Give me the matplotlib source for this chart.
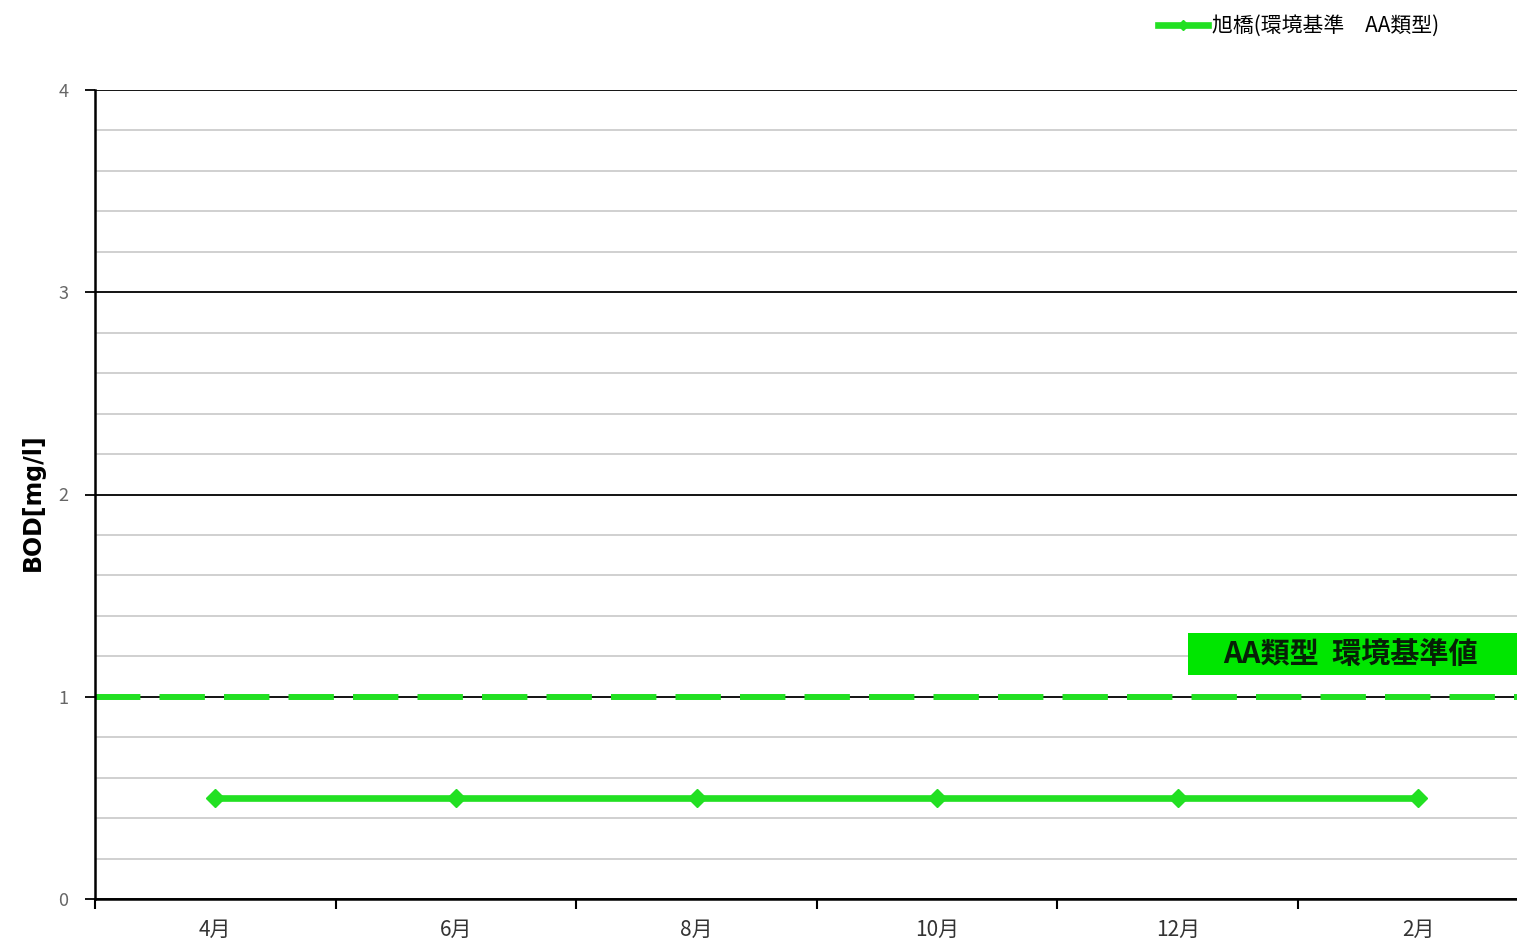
import matplotlib
matplotlib.use("Agg")
import matplotlib.pyplot as plt
from matplotlib.patches import Rectangle
from matplotlib.ticker import MultipleLocator, FixedLocator, NullFormatter

plt.rcParams['font.family'] = ['Noto Sans CJK JP', 'DejaVu Sans']

months = ['4月', '6月', '8月', '10月', '12月', '2月']
bod_values = [0.5, 0.5, 0.5, 0.5, 0.5, 0.5]
standard_value = 1.0
series_label = '旭橋(環境基準\u3000AA類型)'
standard_label = 'AA類型  環境基準値'

GREEN = '#22e022'
BOXGREEN = '#00e600'

fig = plt.figure(figsize=(15.17, 9.43), dpi=100)
W, H = 1517, 943
ax = fig.add_axes([95 / W, 1 - 899 / H, 1 - 95 / W, (899 - 90) / H])

x = list(range(len(months)))
ax.set_xlim(-0.5, -0.5 + (1517 - 95) / 240.6)
ax.set_ylim(0, 4)

# grid
ax.yaxis.set_major_locator(MultipleLocator(1))
ax.yaxis.set_minor_locator(MultipleLocator(0.2))
ax.grid(which='minor', axis='y', color='#c8c8c8', linewidth=1.2, zorder=0)
ax.grid(which='major', axis='y', color='black', linewidth=1.3, zorder=0.5)
ax.tick_params(axis='y', which='minor', length=0)

# standard line
ax.axhline(standard_value, color=GREEN, linewidth=4.3, dashes=(7.6, 3.2),
           dash_capstyle='butt', zorder=2)

# data line
line, = ax.plot(x, bod_values, color=GREEN, linewidth=4.8, marker='D',
                markersize=9, markeredgecolor=GREEN, markerfacecolor=GREEN,
                label=series_label, zorder=3)

# standard label box
ax.add_patch(Rectangle((4.043, 1.108), 2.0, 0.207, facecolor=BOXGREEN,
                       edgecolor='none', zorder=4, clip_on=True))
ax.text(4.72, 1.21, standard_label, fontsize=21, fontweight='bold',
        color='#062006', ha='center', va='center', zorder=5)

# x ticks: labels at categories, tick marks at boundaries
ax.xaxis.set_major_locator(FixedLocator([i - 0.5 for i in range(len(months) + 1)]))
ax.xaxis.set_major_formatter(NullFormatter())
ax.xaxis.set_minor_locator(FixedLocator(x))
ax.set_xticklabels(months, minor=True)
ax.tick_params(axis='x', which='major', direction='out', length=7, width=1.5, color='black')
ax.tick_params(axis='x', which='minor', length=0, labelsize=15, labelcolor='#333333', pad=14)
ax.tick_params(axis='y', which='major', direction='out', length=7, width=1.3,
               labelsize=13, labelcolor='#666666', pad=12)

for s in ['top', 'right']:
    ax.spines[s].set_visible(False)
ax.spines['left'].set_linewidth(1.8)
ax.spines['bottom'].set_linewidth(1.8)

ax.set_ylabel('BOD[mg/l]', fontsize=17, fontweight='bold', family='DejaVu Sans')
ax.yaxis.set_label_coords(-(95 - 45) / 1422, 0.49)

leg = fig.legend(handles=[line], loc='center right', bbox_to_anchor=(1458 / W, 1 - 26 / H),
                 frameon=False, fontsize=15, handlelength=2.4, handletextpad=0.2,
                 markerscale=0.6)

fig.savefig('out.png', dpi=100)
